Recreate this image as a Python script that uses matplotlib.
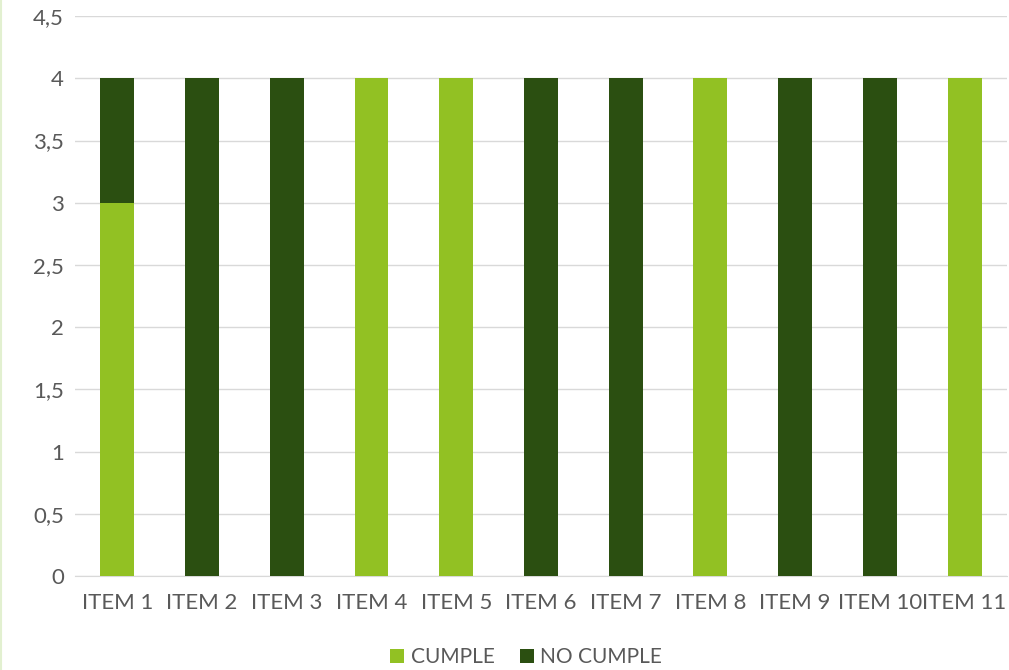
import numpy as np
import matplotlib.pyplot as plt
from matplotlib.ticker import FuncFormatter

items = ['ITEM 1', 'ITEM 2', 'ITEM 3', 'ITEM 4', 'ITEM 5', 'ITEM 6',
         'ITEM 7', 'ITEM 8', 'ITEM 9', 'ITEM 10', 'ITEM 11']
cumple = [3, 0, 0, 4, 4, 0, 0, 4, 0, 0, 4]
no_cumple = [1, 4, 4, 0, 0, 4, 4, 0, 4, 4, 0]
yticks = [0, 0.5, 1, 1.5, 2, 2.5, 3, 3.5, 4, 4.5]

light = '#92C123'
dark = '#2B4F11'
txt = '#595959'

plt.rcParams['font.family'] = ['Lato', 'DejaVu Sans']

fig = plt.figure(figsize=(10.09, 6.70), dpi=100)
ax = fig.add_axes([0.0743, 0.1403, 0.9237, 0.8357])

x = np.arange(len(items))
ax.bar(x, cumple, width=0.4, color=light, label='CUMPLE', zorder=3)
ax.bar(x, no_cumple, width=0.4, bottom=cumple, color=dark, label='NO CUMPLE', zorder=3)

ax.set_xlim(-0.5, len(items) - 0.5)
ax.set_ylim(0, 4.5)
ax.set_yticks(yticks)
ax.yaxis.set_major_formatter(FuncFormatter(lambda v, p: ('%g' % v).replace('.', ',')))
ax.set_xticks(x)
ax.set_xticklabels(items)
ax.tick_params(length=0, labelsize=16, colors=txt)
ax.tick_params(axis='y', pad=8)
ax.tick_params(axis='x', pad=12)

ax.grid(axis='y', color='#D9D9D9', linewidth=1, zorder=0)
for s in ['top', 'right', 'left']:
    ax.spines[s].set_visible(False)
ax.spines['bottom'].set_color('#D9D9D9')

leg = ax.legend(loc='center', bbox_to_anchor=(0.484, -0.145), ncol=2, frameon=False,
                fontsize=15, handlelength=0.7, handleheight=0.7, handletextpad=0.3,
                columnspacing=1.2)
for t in leg.get_texts():
    t.set_color(txt)

# faint border line at left edge
fig.add_artist(plt.Line2D([0.001, 0.001], [0, 1], color='#E2F0D0', linewidth=1.5))

fig.savefig('out.png', dpi=100)
